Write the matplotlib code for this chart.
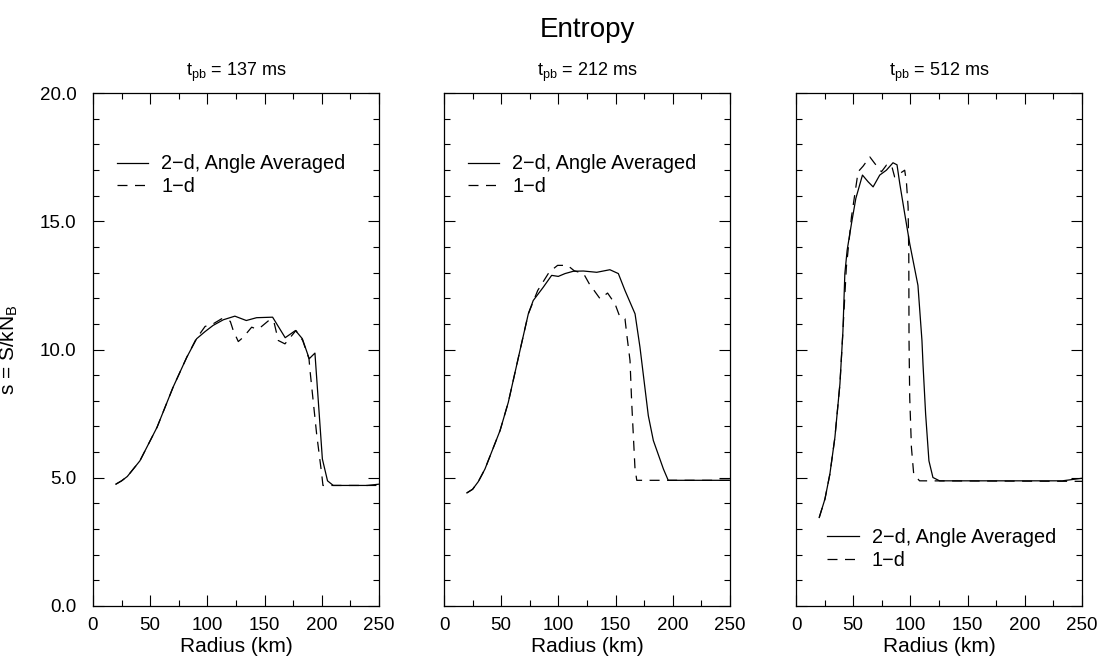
"""
plot.py -- entropy profiles, 2-d angle averaged vs 1-d, at three post-bounce times.
"""
import matplotlib
matplotlib.use("Agg")
import matplotlib.pyplot as plt
from matplotlib.ticker import MultipleLocator, FormatStrFormatter

plt.rcParams["font.family"] = ["Liberation Sans", "DejaVu Sans"]
plt.rcParams["mathtext.fontset"] = "custom"
plt.rcParams["mathtext.rm"] = "Liberation Sans"
plt.rcParams["mathtext.it"] = "Liberation Sans"

times = ["137", "212", "512"]
legend_labels = ["2\u2212d, Angle Averaged", "1\u2212d"]

# t_pb = 137 ms
r1_2d = [20, 25, 30, 41, 56, 70, 82, 90.6, 98, 105, 114, 124, 134, 143, 157,
         168, 177, 183, 189, 194, 200.5, 205, 210, 240, 250]
s1_2d = [4.75, 4.88, 5.05, 5.66, 6.97, 8.53, 9.70, 10.42, 10.7, 10.94, 11.16,
         11.30, 11.13, 11.24, 11.26, 10.46, 10.74, 10.42, 9.64, 9.86, 5.73,
         4.88, 4.7, 4.7, 4.75]
r1_1d = [20, 25, 30, 41, 56, 70, 82, 90, 98, 105, 112.5, 120, 122.6, 127,
         131.4, 138.7, 143, 146.6, 154.7, 158.2, 162, 167.8, 177.4, 183.3,
         188.8, 189.7, 195.5, 199.9, 201, 250]
s1_1d = [4.75, 4.88, 5.05, 5.66, 6.97, 8.53, 9.70, 10.4, 10.9, 11.0, 11.2,
         11.1, 10.74, 10.31, 10.48, 10.87, 10.8, 10.87, 11.17, 11.07, 10.35,
         10.22, 10.74, 10.35, 9.64, 9.18, 6.7, 5.15, 4.7, 4.7]

# t_pb = 212 ms
r2_2d = [20, 25, 30, 35.8, 49, 56.2, 66.4, 73.7, 78, 86.8, 94.1, 99.9, 105.8,
         113, 121.8, 133.5, 145, 152.4, 158.2, 167, 171.3, 178.6, 183, 191.8,
         196, 250]
s2_2d = [4.41, 4.55, 4.85, 5.34, 6.84, 7.94, 9.96, 11.39, 11.91, 12.43, 12.89,
         12.85, 12.96, 13.05, 13.06, 13.01, 13.11, 12.96, 12.3, 11.39, 10.09,
         7.42, 6.45, 5.34, 4.9, 4.9]
r2_1d = [20, 25, 30, 35.8, 49, 56.2, 66.4, 73.7, 81.9, 92, 99.3, 108, 113.8,
         122, 127, 136.4, 143, 149.5, 153.8, 158.2, 159.7, 162.6, 164, 166.9,
         168.5, 250]
s2_1d = [4.41, 4.55, 4.85, 5.34, 6.84, 7.94, 9.96, 11.39, 12.3, 13.02, 13.28,
         13.28, 13.07, 12.96, 12.56, 11.98, 12.2, 11.78, 11.26, 11.2, 10.61,
         9.57, 8.0, 5.4, 4.9, 4.9]

# t_pb = 512 ms
r3_2d = [20.3, 25.3, 29.6, 34, 38.4, 41, 42.7, 44.7, 48.5, 52.3, 58.1, 63,
         67.4, 73.2, 79, 84.8, 88.3, 90.7, 95, 99.4, 106.6, 110.1, 111, 113.3,
         116.2, 119.7, 125.5, 232.8, 250]
s3_2d = [3.45, 4.17, 5.14, 6.57, 8.66, 10.7, 12.96, 13.87, 14.91, 15.89, 16.8,
         16.54, 16.34, 16.8, 16.99, 17.28, 17.2, 16.47, 15.3, 14.13, 12.5,
         10.35, 9.44, 7.49, 5.66, 5.01, 4.88, 4.88, 4.98]
r3_1d = [20.3, 25.3, 29.6, 34, 38.4, 41, 44, 48.5, 54.3, 58.7, 64.5, 68.9,
         74.7, 79.1, 83.4, 86.2, 90.7, 95, 96.5, 98, 98.6, 98.8, 99.4, 100.9,
         102.9, 108, 250]
s3_1d = [3.45, 4.17, 5.14, 6.57, 8.66, 10.7, 13.2, 15.17, 16.93, 17.15, 17.51,
         17.25, 16.93, 17.19, 17.2, 16.73, 16.86, 16.99, 16.54, 15.56, 13.6,
         10.35, 8.14, 6.18, 5.14, 4.88, 4.86]

panels = [(r1_2d, s1_2d, r1_1d, s1_1d),
          (r2_2d, s2_2d, r2_1d, s2_1d),
          (r3_2d, s3_2d, r3_1d, s3_1d)]

fig = plt.figure(figsize=(11.05, 6.63), dpi=100)
lefts = [93, 444, 796]
for i, (ra, sa, rb, sb) in enumerate(panels):
    ax = fig.add_axes([lefts[i] / 1105, 1 - 606 / 663, 286 / 1105, 513 / 663])
    ax.plot(ra, sa, color="black", lw=0.9, label=legend_labels[0])
    ax.plot(rb, sb, color="black", lw=0.9, dashes=(8, 6),
            label=legend_labels[1])
    ax.set_xlim(0, 250)
    ax.set_ylim(0, 20)
    ax.xaxis.set_major_locator(MultipleLocator(50))
    ax.xaxis.set_minor_locator(MultipleLocator(25))
    ax.yaxis.set_major_locator(MultipleLocator(5))
    ax.yaxis.set_minor_locator(MultipleLocator(1))
    ax.yaxis.set_major_formatter(FormatStrFormatter("%.1f"))
    ax.tick_params(which="both", direction="in", top=True, right=True,
                   width=0.8, labelsize=13.5)
    ax.tick_params(which="major", length=8)
    ax.tick_params(which="minor", length=4.5)
    ax.tick_params(axis="x", pad=8)
    ax.tick_params(axis="y", pad=12)
    for sp in ax.spines.values():
        sp.set_linewidth(0.9)
    if i > 0:
        ax.tick_params(axis="y", labelleft=False)
    else:
        ax.set_ylabel(r"s = S/k$\mathregular{N_B}$", fontsize=15, labelpad=14)
    ax.set_xlabel("Radius (km)", fontsize=15, labelpad=2)
    ax.set_title(r"$\mathregular{t_{pb}}$ = " + times[i] + " ms",
                 fontsize=13, pad=12)
    if i < 2:
        ax.legend(loc="upper left", bbox_to_anchor=(0.02, 0.915),
                  frameon=False, fontsize=14.3, handlelength=1.6,
                  handletextpad=0.65, labelspacing=0.18)
    else:
        ax.legend(loc="lower right", bbox_to_anchor=(0.971, 0.036),
                  frameon=False, fontsize=14.3, handlelength=1.6,
                  handletextpad=0.65, labelspacing=0.18)

fig.text(587 / 1105, 1 - 30 / 663, "Entropy", fontsize=20,
         ha="center", va="center")
fig.savefig("out.png", dpi=100)
